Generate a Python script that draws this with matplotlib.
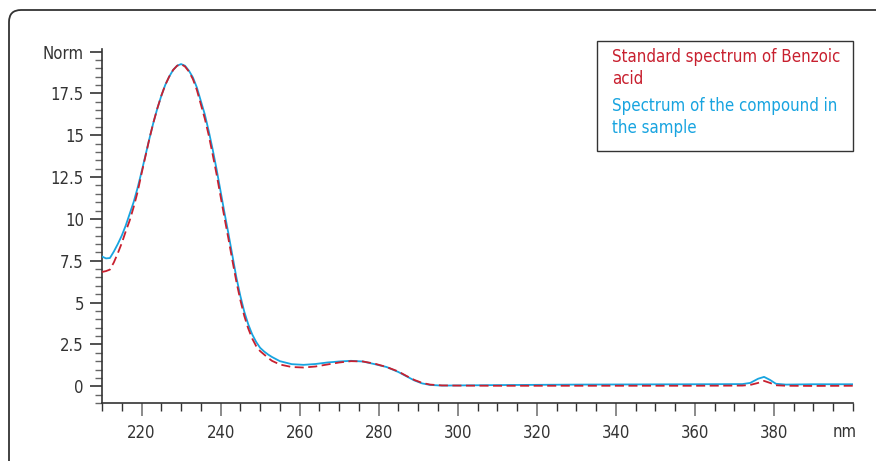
import numpy as np
import matplotlib.pyplot as plt
from matplotlib.patches import FancyBboxPatch, Rectangle
from matplotlib.ticker import MultipleLocator, FuncFormatter

plt.rcParams['font.family'] = ['DejaVu Sans']
plt.rcParams['font.stretch'] = 'condensed'

# wavelength (nm)
wavelength = [210, 211, 212, 213, 214, 215, 216, 217, 218, 219, 220, 221, 222, 223, 224,
              225, 226, 227, 228, 229, 230, 231, 232, 233, 234, 235, 236, 237, 238, 239,
              240, 241, 242, 243, 244, 245, 246, 247, 248, 249, 250, 251, 252, 253, 255,
              258, 261, 264, 267, 270, 273, 276, 279, 282, 285, 287, 289, 291, 293, 296,
              300, 310, 330, 360, 372, 374, 376, 377.5, 379, 380.5, 383, 390, 400]

# spectrum of the compound in the sample (blue)
sample = [7.75, 7.64, 7.66, 8.05, 8.5, 9.0, 9.6, 10.3, 11.0, 11.85, 12.8, 13.8, 14.8, 15.75, 16.6,
          17.35, 18.0, 18.5, 18.9, 19.15, 19.25, 19.15, 18.85, 18.45, 17.85, 17.05, 16.25, 15.25, 14.15, 12.95,
          11.65, 10.35, 9.1, 7.8, 6.5, 5.4, 4.45, 3.7, 3.1, 2.65, 2.3, 2.08, 1.9, 1.75, 1.5,
          1.32, 1.28, 1.33, 1.42, 1.48, 1.52, 1.48, 1.32, 1.15, 0.85, 0.6, 0.35, 0.17, 0.08, 0.04,
          0.05, 0.07, 0.1, 0.12, 0.13, 0.2, 0.45, 0.56, 0.38, 0.15, 0.1, 0.12, 0.12]

# standard spectrum of benzoic acid (red dashed)
standard = [6.83, 6.88, 6.97, 7.4, 7.95, 8.55, 9.25, 9.9, 10.7, 11.6, 12.7, 13.75, 14.8, 15.75, 16.6,
            17.35, 18.0, 18.5, 18.9, 19.15, 19.25, 19.1, 18.8, 18.35, 17.7, 16.85, 16.0, 15.0, 13.85, 12.65,
            11.35, 10.05, 8.8, 7.5, 6.25, 5.15, 4.2, 3.45, 2.85, 2.4, 2.1, 1.9, 1.7, 1.52, 1.3,
            1.15, 1.12, 1.18, 1.3, 1.42, 1.5, 1.48, 1.35, 1.15, 0.88, 0.62, 0.38, 0.2, 0.1, 0.05,
            0.04, 0.03, 0.03, 0.03, 0.04, 0.08, 0.2, 0.32, 0.2, 0.06, 0.03, 0.02, 0.03]

red = '#c8202f'
blue = '#18a4e0'
dark = '#333333'

fig = plt.figure(figsize=(8.76, 4.61), dpi=100)
W, H = 876, 461

# outer rounded frame
frame = FancyBboxPatch((9, -30), 900, 451 + 30, boxstyle='round,pad=0,rounding_size=12',
                       transform=None, fill=False, edgecolor=dark, linewidth=1.3)
fig.patches.append(frame)

ax = fig.add_axes([102 / W, 1 - 403 / H, (853 - 102) / W, (403 - 49) / H])
ax.plot(wavelength, sample, color=blue, lw=1.3, zorder=3)
ax.plot(wavelength, standard, color=red, lw=1.3, dashes=(5, 2.5), zorder=4)

ax.set_xlim(210, 400)
ax.set_ylim(-1.0, 20.15)
for s in ['top', 'right']:
    ax.spines[s].set_visible(False)
for s in ['left', 'bottom']:
    ax.spines[s].set_color(dark)
    ax.spines[s].set_linewidth(1.2)

ax.set_xticks(np.arange(220, 381, 20))
ax.xaxis.set_minor_locator(MultipleLocator(5))
ax.set_yticks(np.arange(0, 20.1, 2.5))
ax.yaxis.set_minor_locator(MultipleLocator(0.5))
ax.yaxis.set_major_formatter(FuncFormatter(
    lambda v, p: 'Norm' if abs(v - 20) < 1e-6 else ('%g' % v)))

ax.tick_params(axis='x', which='major', length=9, width=1.2, color='#777777',
               labelsize=12, labelcolor=dark, pad=6)
ax.tick_params(axis='x', which='minor', length=6, width=1.0, color=dark)
ax.tick_params(axis='y', which='major', length=9, width=1.2, color=dark,
               labelsize=12, labelcolor=dark, pad=4)
ax.tick_params(axis='y', which='minor', length=5, width=1.0, color='#666666')

ax.text(398, -2.2, 'nm', ha='center', va='top', fontsize=12, color=dark)

# legend box
fig.patches.append(Rectangle((597 / W, 1 - 151 / H), 256 / W, 110 / H,
                             transform=fig.transFigure, fill=False,
                             edgecolor=dark, linewidth=1.0))
fig.text(612 / W, 1 - 57 / H, 'Standard spectrum of Benzoic', color=red,
         fontsize=12.1, va='center')
fig.text(612 / W, 1 - 79 / H, 'acid', color=red, fontsize=12.1, va='center')
fig.text(612 / W, 1 - 106 / H, 'Spectrum of the compound in', color=blue,
         fontsize=12.1, va='center')
fig.text(612 / W, 1 - 128 / H, 'the sample', color=blue, fontsize=12.1, va='center')

fig.savefig('out.png', dpi=100)
